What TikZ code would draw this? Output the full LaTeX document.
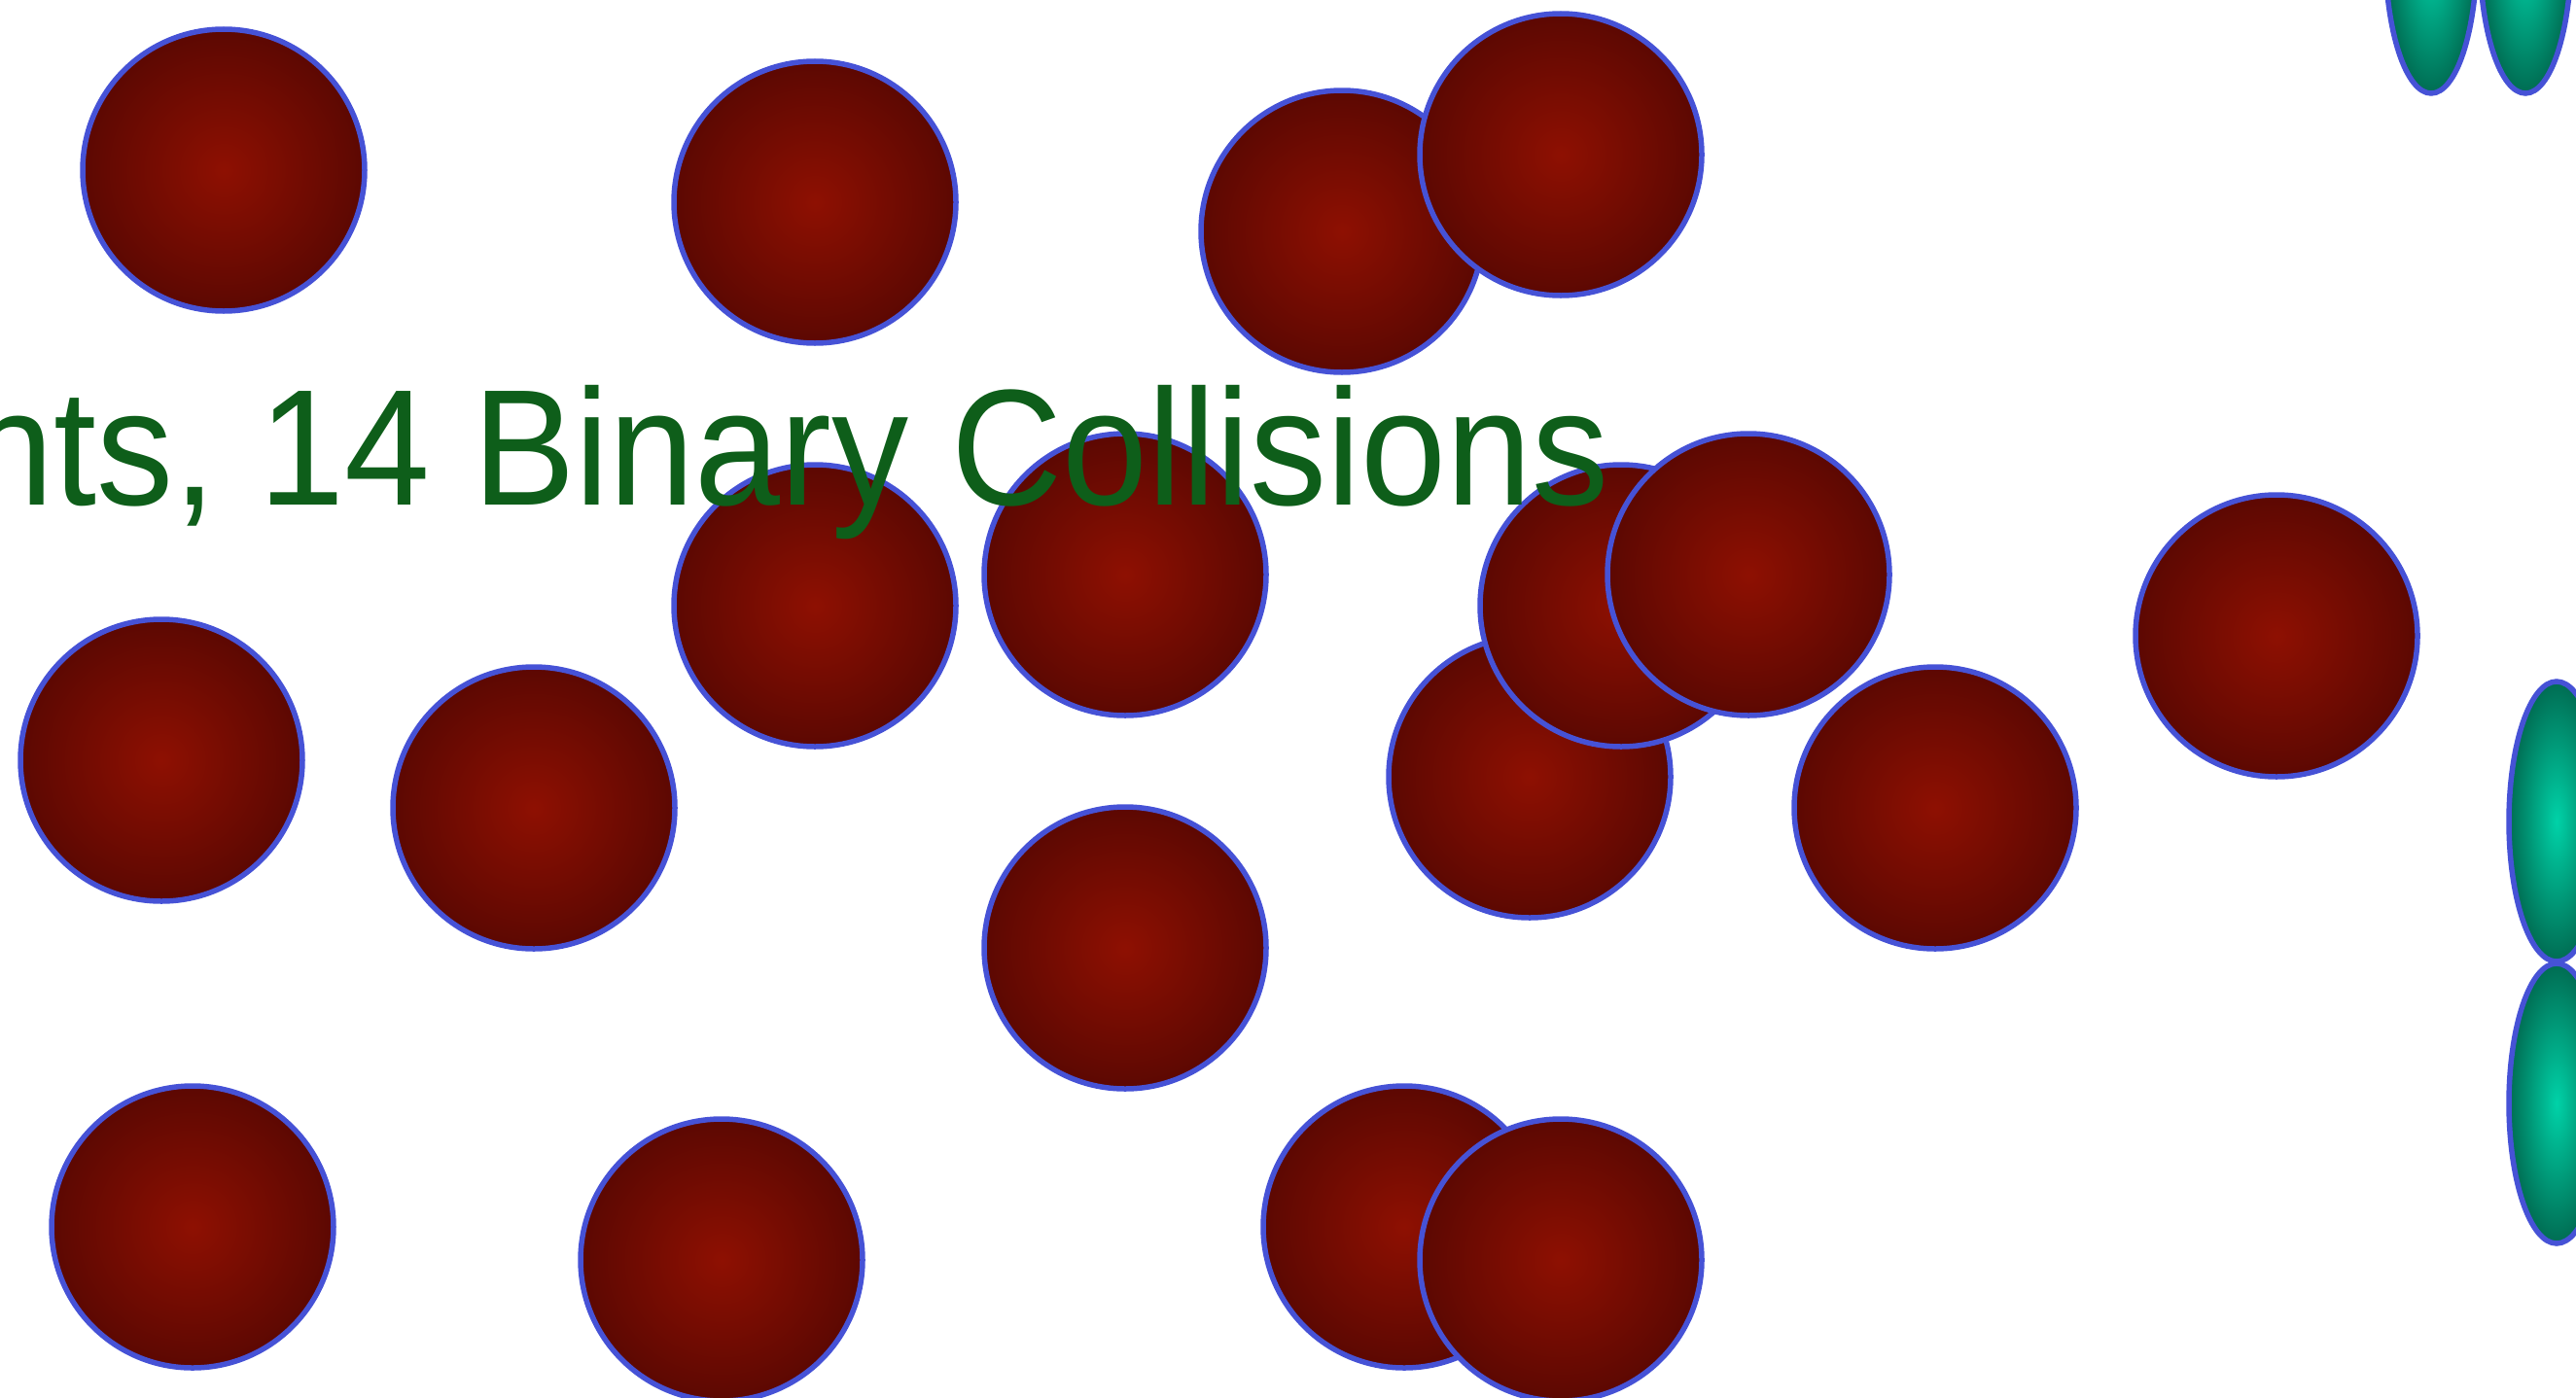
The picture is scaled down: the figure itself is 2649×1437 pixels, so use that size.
\documentclass[tikz,border=0pt]{standalone}
\usepackage{fontspec}
\setmainfont{Liberation Sans}
\definecolor{redin}{RGB}{142,16,2}
\definecolor{redout}{RGB}{92,8,2}
\definecolor{grnin}{RGB}{0,210,168}
\definecolor{grnout}{RGB}{0,108,82}
\definecolor{rim}{RGB}{70,82,214}
\definecolor{txt}{RGB}{14,94,26}
\pgfdeclareradialshading{redball}{\pgfpoint{0bp}{0bp}}{color(0bp)=(redin); color(25bp)=(redout); color(50bp)=(redout)}
\pgfdeclareradialshading{grnball}{\pgfpoint{0bp}{0bp}}{color(0bp)=(grnin); color(25bp)=(grnout); color(50bp)=(grnout)}
\tikzset{
  ball/.style={shading=redball, draw=rim, line width=5.5pt},
  pod/.style={shading=grnball, draw=rim, line width=5.5pt},
  title/.style={font=\fontsize{170}{200}\selectfont, text=txt, inner sep=0pt, anchor=base east, xscale=0.93}
}
\begin{document}
\begin{tikzpicture}[x=1pt,y=-1pt]
\useasboundingbox (0,0) rectangle (2649,1437);
\clip (0,0) rectangle (2649,1437);
% green ellipses
\shadedraw[pod] (2500,-48) ellipse[x radius=47, y radius=144];
\shadedraw[pod] (2597,-48) ellipse[x radius=47, y radius=144];
\shadedraw[pod] (2629,845) ellipse[x radius=49, y radius=144];
\shadedraw[pod] (2629,1135) ellipse[x radius=49, y radius=144];
% red balls
\shadedraw[ball] (230,175) circle[radius=145];
\shadedraw[ball] (838,208) circle[radius=145];
\shadedraw[ball] (1380,238) circle[radius=145];
\shadedraw[ball] (1605,159) circle[radius=145];
\shadedraw[ball] (166,782) circle[radius=145];
\shadedraw[ball] (549,831) circle[radius=145];
\shadedraw[ball] (838,623) circle[radius=145];
\shadedraw[ball] (1157,591) circle[radius=145];
\shadedraw[ball] (1573,799) circle[radius=145];
\shadedraw[ball] (1667,623) circle[radius=145];
\shadedraw[ball] (1798,591) circle[radius=145];
\shadedraw[ball] (1990,831) circle[radius=145];
\shadedraw[ball] (2341,654) circle[radius=145];
\shadedraw[ball] (1157,975) circle[radius=145];
\shadedraw[ball] (198,1262) circle[radius=145];
\shadedraw[ball] (742,1296) circle[radius=145];
\shadedraw[ball] (1444,1262) circle[radius=145];
\shadedraw[ball] (1605,1296) circle[radius=145];
% title
\node[title] (caption) at (1655,519) {nts, 14 Binary Collisions};
\end{tikzpicture}
\end{document}
